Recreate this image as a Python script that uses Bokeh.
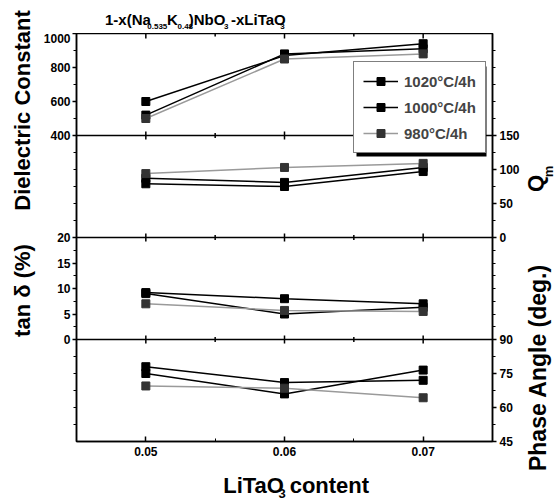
import math
from bokeh.plotting import figure
from bokeh.layouts import row, column
from bokeh.models import (Range1d, LinearAxis, FixedTicker, Span, Label,
                          Legend, LegendItem, BoxAnnotation)
from bokeh.embed import file_html
from bokeh.resources import INLINE

# ---------------- data ----------------
x_content = [0.05, 0.06, 0.07]
series = ["1020\u00b0C/4h", "1000\u00b0C/4h", "980\u00b0C/4h"]

diel_1020 = [600, 870, 940]
diel_1000 = [520, 880, 910]
diel_980 = [500, 850, 880]

qm_1020 = [87, 81, 103]
qm_1000 = [79, 75, 97]
qm_980 = [94, 103, 109]

tan_1020 = [9.2, 8.0, 7.0]
tan_1000 = [9.0, 5.0, 6.3]
tan_980 = [7.0, 5.7, 5.5]

phase_1020 = [78, 71, 72]
phase_1000 = [75, 66, 76.5]
phase_980 = [69.5, 68.5, 64.3]

x_ticks = [0.05, 0.06, 0.07]
x_minor = [0.055, 0.065]
die_ticks = [400, 600, 800, 1000]
qm_ticks = [0, 50, 100, 150]
tan_ticks = [0, 5, 10, 15, 20]
phase_ticks = [45, 60, 75, 90]

# ---------------- layout constants (page pixels) ----------------
FW, FH = 416, 408
FL, FT = 76, 33          # frame left / top on the page
LEFT_W = 40              # left text strip
MAIN_BL, MAIN_BR, MAIN_BT, MAIN_BB = 36, 30, 0, 20
TOP_H = FT - MAIN_BT     # 33
MAIN_W = MAIN_BL + FW + MAIN_BR
MAIN_H = MAIN_BT + FH + MAIN_BB
RIGHT_X0 = LEFT_W + MAIN_W
PAGE_W, PAGE_H = 557, 501
BOT_Y0 = TOP_H + MAIN_H
XR = (0.045, 0.075)
FONT = "Liberation Sans"

p = figure(frame_width=FW, frame_height=FH,
           min_border_left=MAIN_BL, min_border_right=MAIN_BR,
           min_border_top=MAIN_BT, min_border_bottom=MAIN_BB,
           x_range=Range1d(*XR), y_range=Range1d(0, 4),
           output_backend="svg", toolbar_location=None)
p.xgrid.visible = False
p.ygrid.visible = False
p.outline_line_color = "black"
p.outline_line_width = 1.5

# panels: (lo, hi, panel index from bottom)
DIE = (400, 1000, 3)
QM = (0, 150, 2)
TAN = (0, 20, 1)
PH = (45, 90, 0)


def rng(lo, hi, k):
    span = hi - lo
    return Range1d(lo - k * span, hi + (3 - k) * span)


p.extra_y_ranges = {"die": rng(*DIE), "qm": rng(*QM),
                    "tan": rng(*TAN), "ph": rng(*PH)}


def pu(v, lo, hi, k):
    return round(k + (v - lo) / (hi - lo), 6)


def X(px):
    return XR[0] + (px - FL) * (XR[1] - XR[0]) / FW


def Y(py):
    return (FT + FH - py) * 4.0 / FH


# ---- left axis: labelled ticks + unlabelled minor ticks ----
left_lab = {}
for v in die_ticks:
    left_lab[pu(v, *DIE)] = str(v)
for v in tan_ticks:
    left_lab[pu(v, *TAN)] = str(v)
left_minor = ([pu(v, *DIE) for v in [500, 700, 900]] +
              [pu(v, *QM) for v in [25, 50, 75, 100, 125]] +
              [pu(v, *TAN) for v in [2.5, 7.5, 12.5, 17.5]] +
              [pu(v, *PH) for v in [52.5, 60, 67.5, 75, 82.5]])

# ---- right axis ----
right_lab = {}
for v in qm_ticks:
    right_lab[pu(v, *QM)] = str(v)
for v in phase_ticks:
    right_lab[pu(v, *PH)] = str(v)
right_minor = ([pu(v, *DIE) for v in [500, 600, 700, 800, 900]] +
               [pu(v, *QM) for v in [25, 75, 125]] +
               [pu(v, *TAN) for v in [2.5, 5, 7.5, 10, 12.5, 15, 17.5]] +
               [pu(v, *PH) for v in [52.5, 67.5, 82.5]])


def style_y(ax, labels, minor):
    ax.ticker = FixedTicker(ticks=sorted(labels.keys()), minor_ticks=minor)
    ax.major_label_overrides = labels
    ax.major_label_text_font = FONT
    ax.major_label_text_font_style = "bold"
    ax.major_label_text_font_size = "12px"
    ax.major_label_text_color = "black"
    ax.axis_line_width = 1.5
    ax.major_tick_in = 0
    ax.major_tick_out = 4
    ax.minor_tick_in = 0
    ax.minor_tick_out = 3
    ax.major_tick_line_width = 1.5
    ax.minor_tick_line_width = 1.2
    ax.major_label_standoff = 2


style_y(p.yaxis[0], left_lab, left_minor)
right = LinearAxis()
style_y(right, right_lab, right_minor)
right.major_label_standoff = 3
p.add_layout(right, "right")

bottom = p.xaxis[0]
bottom.ticker = FixedTicker(ticks=x_ticks, minor_ticks=x_minor)
bottom.major_label_text_font = FONT
bottom.major_label_text_font_style = "bold"
bottom.major_label_text_font_size = "12px"
bottom.major_label_text_color = "black"
bottom.axis_line_width = 1.5
bottom.major_tick_in = 5
bottom.major_tick_out = 0
bottom.minor_tick_in = 3
bottom.minor_tick_out = 0
bottom.major_tick_line_width = 1.5
bottom.major_label_standoff = 5

# panel dividers and inward tick marks along top edge / dividers
for lvl in [1, 2, 3, 4]:
    if lvl < 4:
        p.add_layout(Span(location=lvl, dimension="width", line_color="black",
                          line_width=1.5))
    p.scatter(x=x_ticks, y=[lvl] * len(x_ticks), marker="dash",
              size=10 if lvl == 4 else 8, angle=math.pi / 2,
              line_color="black", line_width=1.5)
    p.scatter(x=x_minor, y=[lvl] * len(x_minor), marker="dash",
              size=6 if lvl == 4 else 5, angle=math.pi / 2,
              line_color="black", line_width=1.5)

# ---------------- data glyphs ----------------
styles = [("black", "black"), ("black", "black"), ("#9a9a9a", "#333333")]
panel_data = [
    ("die", [diel_1020, diel_1000, diel_980]),
    ("qm", [qm_1020, qm_1000, qm_980]),
    ("tan", [tan_1020, tan_1000, tan_980]),
    ("ph", [phase_1020, phase_1000, phase_980]),
]
legend_renderers = [[], [], []]
for name, sets in panel_data:
    for i, ys in enumerate(sets):
        lc, mc = styles[i]
        lr = p.line(x_content, ys, y_range_name=name, line_color=lc,
                    line_width=1.5)
        sr = p.scatter(x_content, ys, y_range_name=name, marker="square",
                       size=8, fill_color=mc, line_color=mc)
        if name == "die":
            legend_renderers[i] = [lr, sr]

# ---------------- legend with shadow ----------------
LEG_L, LEG_T, LEG_W, LEG_H = 353, 63, 130, 90
shadow = BoxAnnotation(left=X(LEG_L + 3), right=X(LEG_L + LEG_W + 3),
                       top=Y(LEG_T + 3), bottom=Y(LEG_T + LEG_H + 3),
                       fill_color="black", fill_alpha=1.0, line_alpha=0)
p.add_layout(shadow)

legend = Legend(items=[LegendItem(label=series[i], renderers=legend_renderers[i])
                       for i in range(3)],
                location=(LEG_L - FL, FT + FH - (LEG_T + LEG_H)))
legend.label_text_font = FONT
legend.label_text_font_style = "bold"
legend.label_text_font_size = "15px"
legend.glyph_width = 35
legend.glyph_height = 20
legend.label_height = 20
legend.label_standoff = 6
legend.spacing = 6
legend.padding = 9
legend.margin = 0
legend.border_line_color = "black"
legend.border_line_width = 1.5
legend.background_fill_color = "white"
legend.background_fill_alpha = 1.0
p.add_layout(legend, "center")


# ---------------- text strips (page-pixel coordinates) ----------------
def strip(x0, x1, y0, y1):
    f = figure(width=x1 - x0, height=y1 - y0,
               x_range=Range1d(x0, x1), y_range=Range1d(y1, y0),
               min_border=0, x_axis_location=None, y_axis_location=None,
               output_backend="svg", toolbar_location=None)
    f.outline_line_color = None
    f.xgrid.visible = False
    f.ygrid.visible = False
    return f


def lab(fig, text, px, py, size, angle=0.0, align="left", baseline="alphabetic"):
    fig.add_layout(Label(x=px, y=py, text=text, text_font=FONT,
                         text_font_style="bold", text_font_size=f"{size}px",
                         text_color="black", angle=angle, text_align=align,
                         text_baseline=baseline))


top_s = strip(LEFT_W, RIGHT_X0, 0, TOP_H)
bot_s = strip(LEFT_W, RIGHT_X0, BOT_Y0, PAGE_H)
left_s = strip(0, LEFT_W, 0, PAGE_H)
right_s = strip(RIGHT_X0, PAGE_W, 0, PAGE_H)

# title
lab(top_s, "1-x(Na", 73, 19, 15)
lab(top_s, "0.535", 122, 26, 8)
lab(top_s, "K", 145, 19, 15)
lab(top_s, "0.48", 157, 26, 8)
lab(top_s, ")NbO", 170, 19, 15)
lab(top_s, "3", 211, 26, 8)
lab(top_s, "-xLiTaO", 219, 19, 15)
lab(top_s, "3", 276, 26, 8)

# x label
lab(bot_s, "LiTaO", 210, 485, 22)
lab(bot_s, "3", 274, 493, 13)
lab(bot_s, "content", 287, 485, 22)

# left labels
lab(left_s, "Dielectric Constant", 22, 110, 22, angle=math.pi / 2,
    align="center", baseline="middle")
lab(left_s, "tan \u03b4 (%)", 22, 290, 22, angle=math.pi / 2,
    align="center", baseline="middle")

# right labels
lab(right_s, "Q", 535, 183, 22, angle=math.pi / 2, align="center",
    baseline="middle")
lab(right_s, "m", 548, 171, 13, angle=math.pi / 2, align="center",
    baseline="middle")
lab(right_s, "Phase Angle (deg.)", 537, 367, 23, angle=math.pi / 2,
    align="center", baseline="middle")

layout = row(left_s, column(top_s, p, bot_s), right_s)
open("out.html", "w").write(file_html(layout, INLINE))
